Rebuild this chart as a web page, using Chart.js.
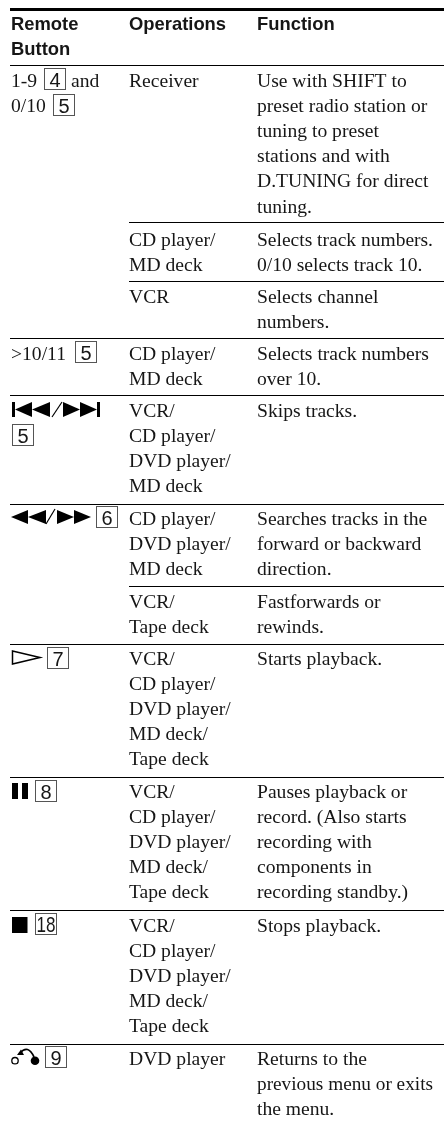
<!DOCTYPE html>
<html>
<head>
<meta charset="utf-8">
<style>
  html, body { margin: 0; padding: 0; background: #fff; }
  canvas { display: block; }
</style>
<script src="https://cdn.jsdelivr.net/npm/chart.js@4/dist/chart.umd.min.js"></script>
</head>
<body>
<canvas id="table" width="444" height="1122"></canvas>
<script>
// Table content
const headerLabels = [["Remote", "Button"], ["Operations"], ["Function"]]
const operations = [
  ["Receiver"],
  ["CD player/", "MD deck"],
  ["VCR"],
  ["CD player/", "MD deck"],
  ["VCR/", "CD player/", "DVD player/", "MD deck"],
  ["CD player/", "DVD player/", "MD deck"],
  ["VCR/", "Tape deck"],
  ["VCR/", "CD player/", "DVD player/", "MD deck/", "Tape deck"],
  ["VCR/", "CD player/", "DVD player/", "MD deck/", "Tape deck"],
  ["VCR/", "CD player/", "DVD player/", "MD deck/", "Tape deck"],
  ["DVD player"],
]
const functions = [
  ["Use with SHIFT to", "preset radio station or", "tuning to preset", "stations and with", "D.TUNING for direct", "tuning."],
  ["Selects track numbers.", "0/10 selects track 10."],
  ["Selects channel", "numbers."],
  ["Selects track numbers", "over 10."],
  ["Skips tracks."],
  ["Searches tracks in the", "forward or backward", "direction."],
  ["Fastforwards or", "rewinds."],
  ["Starts playback."],
  ["Pauses playback or", "record. (Also starts", "recording with", "components in", "recording standby.)"],
  ["Stops playback."],
  ["Returns to the", "previous menu or exits", "the menu."],
]
const remoteLabels = ["1-9", "and", "0/10", ">10/11"]
const keyNumbers = ["4", "5", "5", "5", "6", "7", "8", "18", "9"]

// Where things sit, in table units (the scales below map them onto the canvas)
const columnX = [11, 129, 257]
const headerY = [30, 55]
const rowY = [87, 246, 303, 360, 417, 525, 608, 665, 798, 932, 1065]
const rulesY = [65.5, 222.5, 281.5, 338.5, 395.5, 504.5, 586.5, 644.5, 777.5, 910.5, 1044.5]
const rulesFrom = [10, 129, 129, 10, 10, 10, 129, 10, 10, 10, 10]
const remoteLabelX = [11, 71, 11, 11]
const remoteLabelY = [87, 87, 112, 360]
const keyX = [44, 53, 75, 12, 96, 47, 35, 35, 45]
const keyY = [68, 94, 341, 424, 506, 647, 780, 913, 1046]

const linePitch = 25.1
const serifFont = '19.6px "Liberation Serif"'
const headFont = 'bold 18.4px "Liberation Sans"'
const inkColor = "#161616"

const ruleDatasets = rulesY.map((y, i) => ({
  data: [{ x: rulesFrom[i], y }, { x: 444, y }],
  borderColor: "#000",
  borderWidth: 1,
  pointRadius: 0,
}))
ruleDatasets.push({
  data: [{ x: 10, y: 9.5 }, { x: 444, y: 9.5 }],
  borderColor: "#000",
  borderWidth: 3,
  pointRadius: 0,
})

// Text, key boxes and the remote's button symbols
const tablePlugin = {
  id: "tablePlugin",
  afterDatasetsDraw(chart) {
    const ctx = chart.ctx
    const X = (v) => chart.scales.x.getPixelForValue(v)
    const Y = (v) => chart.scales.y.getPixelForValue(v)

    const poly = (pts) => {
      ctx.beginPath()
      pts.forEach((p, i) => (i ? ctx.lineTo(X(p[0]), Y(p[1])) : ctx.moveTo(X(p[0]), Y(p[1]))))
      ctx.closePath()
      ctx.fill()
    }

    ctx.save()
    ctx.textBaseline = "alphabetic"
    ctx.fillStyle = inkColor

    ctx.font = headFont
    headerLabels.forEach((lines, c) => {
      lines.forEach((t, l) => ctx.fillText(t, X(columnX[c]), Y(headerY[l])))
    })

    ctx.font = serifFont
    remoteLabels.forEach((t, i) => ctx.fillText(t, X(remoteLabelX[i]), Y(remoteLabelY[i])))
    operations.forEach((lines, r) => {
      lines.forEach((t, l) => ctx.fillText(t, X(columnX[1]), Y(rowY[r] + l * linePitch)))
    })
    functions.forEach((lines, r) => {
      lines.forEach((t, l) => ctx.fillText(t, X(columnX[2]), Y(rowY[r] + l * linePitch), 176))
    })

    keyNumbers.forEach((t, i) => {
      const x = X(keyX[i])
      const y = Y(keyY[i])
      const wide = t.length > 1
      ctx.strokeStyle = "#555"
      ctx.lineWidth = 1
      ctx.strokeRect(x + 0.5, y + 0.5, 21, 21)
      ctx.fillStyle = inkColor
      ctx.font = wide ? '22px "Liberation Sans"' : '20px "Liberation Sans"'
      ctx.textAlign = "center"
      ctx.fillText(t, x + 11, y + (wide ? 19 : 18.5), 19)
      ctx.textAlign = "left"
    })

    // skip back / skip forward
    ctx.fillStyle = "#000"
    ctx.strokeStyle = "#000"
    ctx.fillRect(X(12), Y(402), 3, 15)
    poly([[15, 409.5], [32, 402], [32, 417]])
    poly([[32, 409.5], [50, 402], [50, 417]])
    poly([[63, 402], [80, 409.5], [63, 417]])
    poly([[80, 402], [97, 409.5], [80, 417]])
    ctx.fillRect(X(97), Y(402), 3, 15)
    ctx.lineWidth = 1.2
    ctx.beginPath()
    ctx.moveTo(X(52), Y(417))
    ctx.lineTo(X(62), Y(402))
    ctx.stroke()

    // rewind / fast forward
    poly([[11, 517], [28, 510], [28, 524]])
    poly([[28, 517], [46, 510], [46, 524]])
    poly([[57, 510], [74, 517], [57, 524]])
    poly([[74, 510], [91, 517], [74, 524]])
    ctx.beginPath()
    ctx.moveTo(X(46), Y(524))
    ctx.lineTo(X(55), Y(509))
    ctx.stroke()

    // play
    ctx.lineWidth = 1.5
    ctx.beginPath()
    ctx.moveTo(X(12.5), Y(651))
    ctx.lineTo(X(40), Y(657.5))
    ctx.lineTo(X(12.5), Y(664))
    ctx.closePath()
    ctx.stroke()

    // pause
    ctx.fillRect(X(12), Y(783), 6, 16)
    ctx.fillRect(X(22), Y(783), 6, 16)

    // stop
    ctx.fillRect(X(12), Y(917), 15.5, 16)

    // return
    ctx.lineWidth = 1.3
    ctx.beginPath()
    ctx.arc(X(15), Y(1060.7), 3.2, 0, Math.PI * 2)
    ctx.stroke()
    ctx.beginPath()
    ctx.arc(X(35), Y(1060.7), 4.3, 0, Math.PI * 2)
    ctx.fill()
    ctx.lineWidth = 1.8
    ctx.beginPath()
    ctx.moveTo(X(20), Y(1053))
    ctx.quadraticCurveTo(X(28), Y(1044), X(34), Y(1057))
    ctx.stroke()
    poly([[17, 1055], [21, 1049.5], [24, 1055]])

    ctx.restore()
  },
}

new Chart(document.getElementById("table"), {
  type: "line",
  data: { datasets: ruleDatasets },
  options: {
    responsive: false,
    animation: false,
    layout: { padding: 0 },
    plugins: { legend: { display: false }, tooltip: { enabled: false } },
    scales: {
      x: { type: "linear", display: false, min: 0, max: 444 },
      y: { type: "linear", display: false, reverse: true, min: 0, max: 1122 },
    },
  },
  plugins: [tablePlugin],
})
</script>
</body>
</html>
